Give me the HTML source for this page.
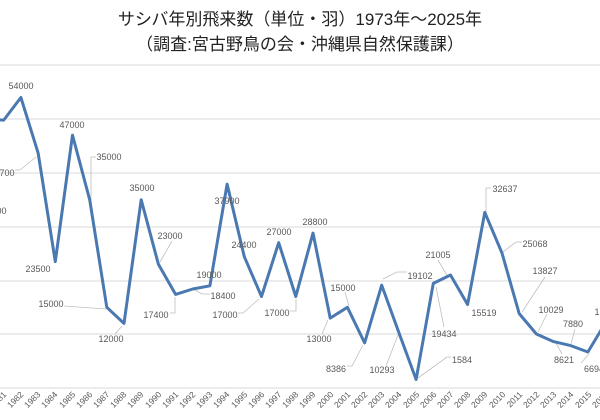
<!DOCTYPE html>
<html><head><meta charset="utf-8"><style>
html,body{margin:0;padding:0;background:#fff;width:600px;height:420px;overflow:hidden}
svg{display:block}
.t{font-family:"Liberation Sans","Noto Sans CJK JP",sans-serif;fill:#222;font-size:17px}
.l{font-family:"Liberation Sans",sans-serif;font-size:9px;fill:#595959}
.y{font-family:"Liberation Sans",sans-serif;font-size:8.5px;fill:#595959}
</style></head><body>
<svg width="600" height="420" viewBox="0 0 600 420">
<text class="t" x="300" y="25" text-anchor="middle">サシバ年別飛来数（単位・羽）1973年～2025年</text>
<text class="t" x="300" y="50" text-anchor="middle">（調査:宮古野鳥の会・沖縄県自然保護課）</text>
<g stroke="#d9d9d9" stroke-width="1">
<line x1="0" y1="65" x2="600" y2="65"/><line x1="0" y1="119" x2="600" y2="119"/>
<line x1="0" y1="173" x2="600" y2="173"/><line x1="0" y1="227" x2="600" y2="227"/>
<line x1="0" y1="281" x2="600" y2="281"/><line x1="0" y1="334" x2="600" y2="334"/>
<line x1="0" y1="388" x2="600" y2="388"/>
</g>
<g stroke="#bfbfbf" stroke-width="0.8" fill="none">
<polyline points="15,170 20,170 36,157"/>
<polyline points="64,306 106,309"/>
<polyline points="115,334 122,326"/>
<polyline points="91,200 91,157 96,157"/>
<polyline points="172,241 160,262"/>
<polyline points="170,313 175,313 175,297"/>
<polyline points="195,290 202,294 210,294"/>
<polyline points="238,313 243,313 259,299"/>
<polyline points="290,311 296,311 296,299"/>
<polyline points="322,334 328,320"/>
<polyline points="347,366 352,366 363,345"/>
<polyline points="383,279 397,272 407,272"/>
<polyline points="386,366 398,335"/>
<polyline points="451,357 447,357 418,378"/>
<polyline points="444,327 436,287"/>
<polyline points="438,260 448,277"/>
<polyline points="486,217 486,188 491,188"/>
<polyline points="503,252 516,242 522,242"/>
<polyline points="545,277 522,312"/>
<polyline points="547,314 538,332"/>
<polyline points="562,354 556,343"/>
<polyline points="575,329 571,344"/>
<polyline points="581,363 589,354"/>
<polyline points="345,292 349,306"/>
</g>
<polyline fill="none" stroke="#4a78b0" stroke-width="3" stroke-linejoin="round" points="-13.4,119 3.7,120.1 20.9,97.5 38.1,152.9 55.3,261.6 72.5,135.1 89.7,199.7 106.8,307.3 124,323.4 141.2,199.7 158.4,264.3 175.6,294.4 192.7,289 209.9,285.8 227.1,184.1 244.3,256.7 261.5,296.5 278.7,242.7 295.8,296.5 313,233.1 330.2,318.1 347.4,307.3 364.6,342.9 381.7,285.2 398.9,332.6 416.1,379.5 433.3,283.4 450.5,275 467.6,304.5 484.8,212.4 502,253.1 519.2,313.6 536.4,334 553.5,341.6 570.7,345.6 587.9,352 605.1,323.4"/>
<g class="l" text-anchor="middle">
<text x="21" y="89">54000</text>
<text x="2" y="176">43700</text>
<text x="-6" y="214">32000</text>
<text x="38" y="272">23500</text>
<text x="51" y="307">15000</text>
<text x="72" y="128">47000</text>
<text x="109" y="160">35000</text>
<text x="111" y="342">12000</text>
<text x="142" y="191">35000</text>
<text x="170" y="239">23000</text>
<text x="156" y="318">17400</text>
<text x="223" y="299">18400</text>
<text x="209" y="278">19000</text>
<text x="227" y="204">37900</text>
<text x="244" y="248">24400</text>
<text x="225" y="318">17000</text>
<text x="279" y="235">27000</text>
<text x="277" y="316">17000</text>
<text x="315" y="225">28800</text>
<text x="343" y="291">15000</text>
<text x="319" y="342">13000</text>
<text x="336" y="372">8386</text>
<text x="420" y="279">19102</text>
<text x="382" y="373">10293</text>
<text x="462" y="363">1584</text>
<text x="444" y="337">19434</text>
<text x="438" y="258">21005</text>
<text x="484" y="316">15519</text>
<text x="505" y="192">32637</text>
<text x="535" y="247">25068</text>
<text x="545" y="274">13827</text>
<text x="551" y="313">10029</text>
<text x="564" y="363">8621</text>
<text x="573" y="327">7880</text>
<text x="594" y="372">6694</text>
<text x="607" y="315">12000</text>
</g>
<g class="y" text-anchor="end">
<text transform="translate(7,395) rotate(-45)">1981</text>
<text transform="translate(24,395) rotate(-45)">1982</text>
<text transform="translate(41,395) rotate(-45)">1983</text>
<text transform="translate(58,395) rotate(-45)">1984</text>
<text transform="translate(76,395) rotate(-45)">1985</text>
<text transform="translate(93,395) rotate(-45)">1986</text>
<text transform="translate(110,395) rotate(-45)">1987</text>
<text transform="translate(127,395) rotate(-45)">1988</text>
<text transform="translate(144,395) rotate(-45)">1989</text>
<text transform="translate(162,395) rotate(-45)">1990</text>
<text transform="translate(179,395) rotate(-45)">1991</text>
<text transform="translate(196,395) rotate(-45)">1992</text>
<text transform="translate(213,395) rotate(-45)">1993</text>
<text transform="translate(230,395) rotate(-45)">1994</text>
<text transform="translate(248,395) rotate(-45)">1995</text>
<text transform="translate(265,395) rotate(-45)">1996</text>
<text transform="translate(282,395) rotate(-45)">1997</text>
<text transform="translate(299,395) rotate(-45)">1998</text>
<text transform="translate(316,395) rotate(-45)">1999</text>
<text transform="translate(334,395) rotate(-45)">2000</text>
<text transform="translate(351,395) rotate(-45)">2001</text>
<text transform="translate(368,395) rotate(-45)">2002</text>
<text transform="translate(385,395) rotate(-45)">2003</text>
<text transform="translate(402,395) rotate(-45)">2004</text>
<text transform="translate(420,395) rotate(-45)">2005</text>
<text transform="translate(437,395) rotate(-45)">2006</text>
<text transform="translate(454,395) rotate(-45)">2007</text>
<text transform="translate(471,395) rotate(-45)">2008</text>
<text transform="translate(488,395) rotate(-45)">2009</text>
<text transform="translate(506,395) rotate(-45)">2010</text>
<text transform="translate(523,395) rotate(-45)">2011</text>
<text transform="translate(540,395) rotate(-45)">2012</text>
<text transform="translate(557,395) rotate(-45)">2013</text>
<text transform="translate(574,395) rotate(-45)">2014</text>
<text transform="translate(592,395) rotate(-45)">2015</text>
<text transform="translate(609,395) rotate(-45)">2016</text>
</g>
</svg>
</body></html>
